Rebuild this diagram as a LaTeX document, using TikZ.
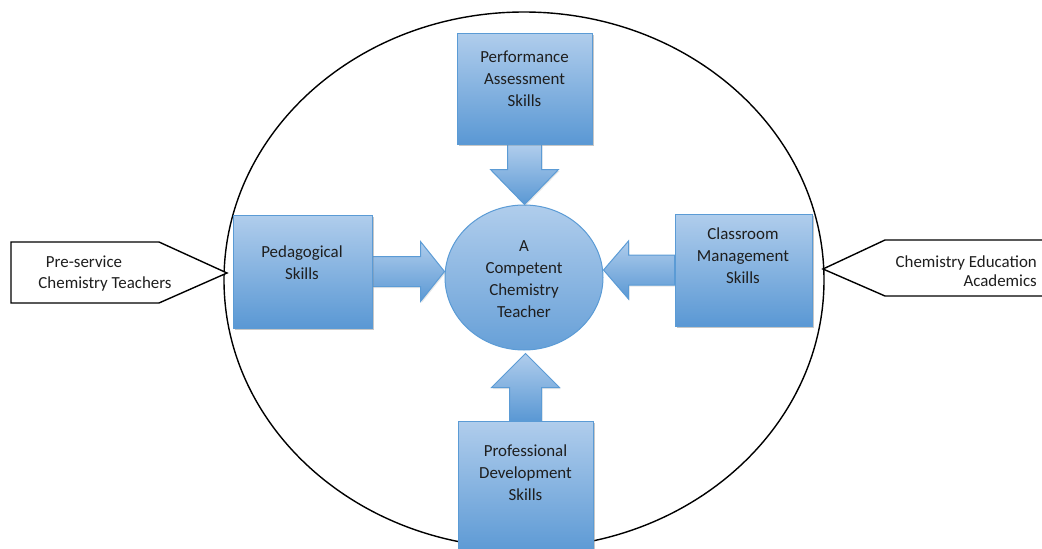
\documentclass[tikz,border=0pt]{standalone}
\usepackage{fontspec}
\setmainfont{Carlito}
\usetikzlibrary{shapes.geometric,calc,shadows}
\definecolor{skytop}{HTML}{B0CDEC}
\definecolor{skybot}{HTML}{5A98D4}
\definecolor{skyline}{HTML}{5B9BD5}
\definecolor{ink}{HTML}{1E1E1E}
\begin{document}
\begin{tikzpicture}[x=1pt,y=-1pt,
  skillbox/.style={rectangle, draw=skyline, line width=1pt, top color=skytop,
    bottom color=skybot, inner sep=0pt,
    drop shadow={shadow xshift=1.5pt,shadow yshift=-2pt,opacity=0.25}},
  hub/.style={ellipse, draw=skyline, line width=1pt, top color=skytop,
    bottom color=skybot!85!skytop, inner sep=0pt},
  flow/.style={draw=skyline, line width=1pt, top color=skytop, bottom color=skybot,
    line join=miter, drop shadow={shadow xshift=1pt,shadow yshift=-1.5pt,opacity=0.2}},
  boxtext/.style={font=\fontsize{16.9}{22}\selectfont, text=ink, align=center, inner sep=0pt},
  calltext/.style={font=\fontsize{16.9}{22}\selectfont, text=ink, inner sep=0pt},
  callout/.style={draw=black, line width=1.4pt, fill=white, line join=miter},
]
\useasboundingbox (0,0) rectangle (1042,549);
\clip (0,0) rectangle (1042,549);

% outer frame
\node[ellipse, draw=black, line width=1.4pt, minimum width=600, minimum height=536,
  inner sep=0pt] (frame) at (524,280) {};

% stakeholder callouts
\draw[callout] (11,242) -- (159,242) -- (227,273) -- (159,303) -- (11,303) -- cycle;
\draw[callout] (1050,240) -- (885,240) -- (823,269) -- (885,296) -- (1050,296);
\node[calltext, anchor=base] (pst1) at (84,267) {Pre-service};
\node[calltext, anchor=base] (pst2) at (105,288) {Chemistry Teachers};
\node[calltext, anchor=base east] (cea1) at (1037,267) {Chemistry Education};
\node[calltext, anchor=base east] (cea2) at (1037,286) {Academics};

% skill boxes and central teacher
\node[hub, minimum width=158, minimum height=145] (comp) at (524,277.5) {};
\node[skillbox, minimum width=135, minimum height=111] (pas) at (524.5,88.5) {};
\node[skillbox, minimum width=139, minimum height=113] (ped) at (302.5,271.5) {};
\node[skillbox, minimum width=137, minimum height=112] (cms) at (743.5,270) {};
\node[skillbox, minimum width=135, minimum height=135] (pds) at (525.5,488.5) {};

% block arrows from each skill towards the teacher
\coordinate (tipT) at (comp.north -| pas.south);
\coordinate (tipL) at (comp.west |- ped.east);
\coordinate (tipR) at (comp.east |- cms.west);
\coordinate (tipB) at ($(comp.south -| pds.north)+(0,3)$);

\path[flow] ($(pas.south)+(-17,0)$) -- ($(tipT)+(-17,-35)$) -- ($(tipT)+(-34,-35)$)
  -- (tipT) -- ($(tipT)+(34,-35)$) -- ($(tipT)+(17,-35)$) -- ($(pas.south)+(17,0)$) -- cycle;
\path[flow] ($(ped.east)+(0,-15)$) -- ($(tipL)+(-24,-15)$) -- ($(tipL)+(-24,-30)$)
  -- (tipL) -- ($(tipL)+(-24,30)$) -- ($(tipL)+(-24,15)$) -- ($(ped.east)+(0,15)$) -- cycle;
\path[flow] ($(cms.west)+(0,-15)$) -- ($(tipR)+(25,-15)$) -- ($(tipR)+(25,-29)$)
  -- (tipR) -- ($(tipR)+(25,29)$) -- ($(tipR)+(25,15)$) -- ($(cms.west)+(0,15)$) -- cycle;
\path[flow] ($(pds.north)+(-16,0)$) -- ($(tipB)+(-16,34)$) -- ($(tipB)+(-34,34)$)
  -- (tipB) -- ($(tipB)+(34,34)$) -- ($(tipB)+(16,34)$) -- ($(pds.north)+(16,0)$) -- cycle;

% redraw the boxes over the arrow roots
\node[skillbox, minimum width=135, minimum height=111] at (pas) {};
\node[skillbox, minimum width=139, minimum height=113] at (ped) {};
\node[skillbox, minimum width=137, minimum height=112] at (cms) {};
\node[skillbox, minimum width=135, minimum height=135] at (pds) {};

% texts
\node[boxtext] (pas-t) at (524.5,79) {Performance\\Assessment\\Skills};
\node[boxtext] (ped-t) at (302,263) {Pedagogical\\Skills};
\node[boxtext] (cms-t) at (743,256) {Classroom\\Management\\Skills};
\node[boxtext] (pds-t) at (525.5,473) {Professional\\Development\\Skills};
\node[boxtext] (comp-t) at (524,279) {A\\Competent\\Chemistry\\Teacher};
\end{tikzpicture}
\end{document}
